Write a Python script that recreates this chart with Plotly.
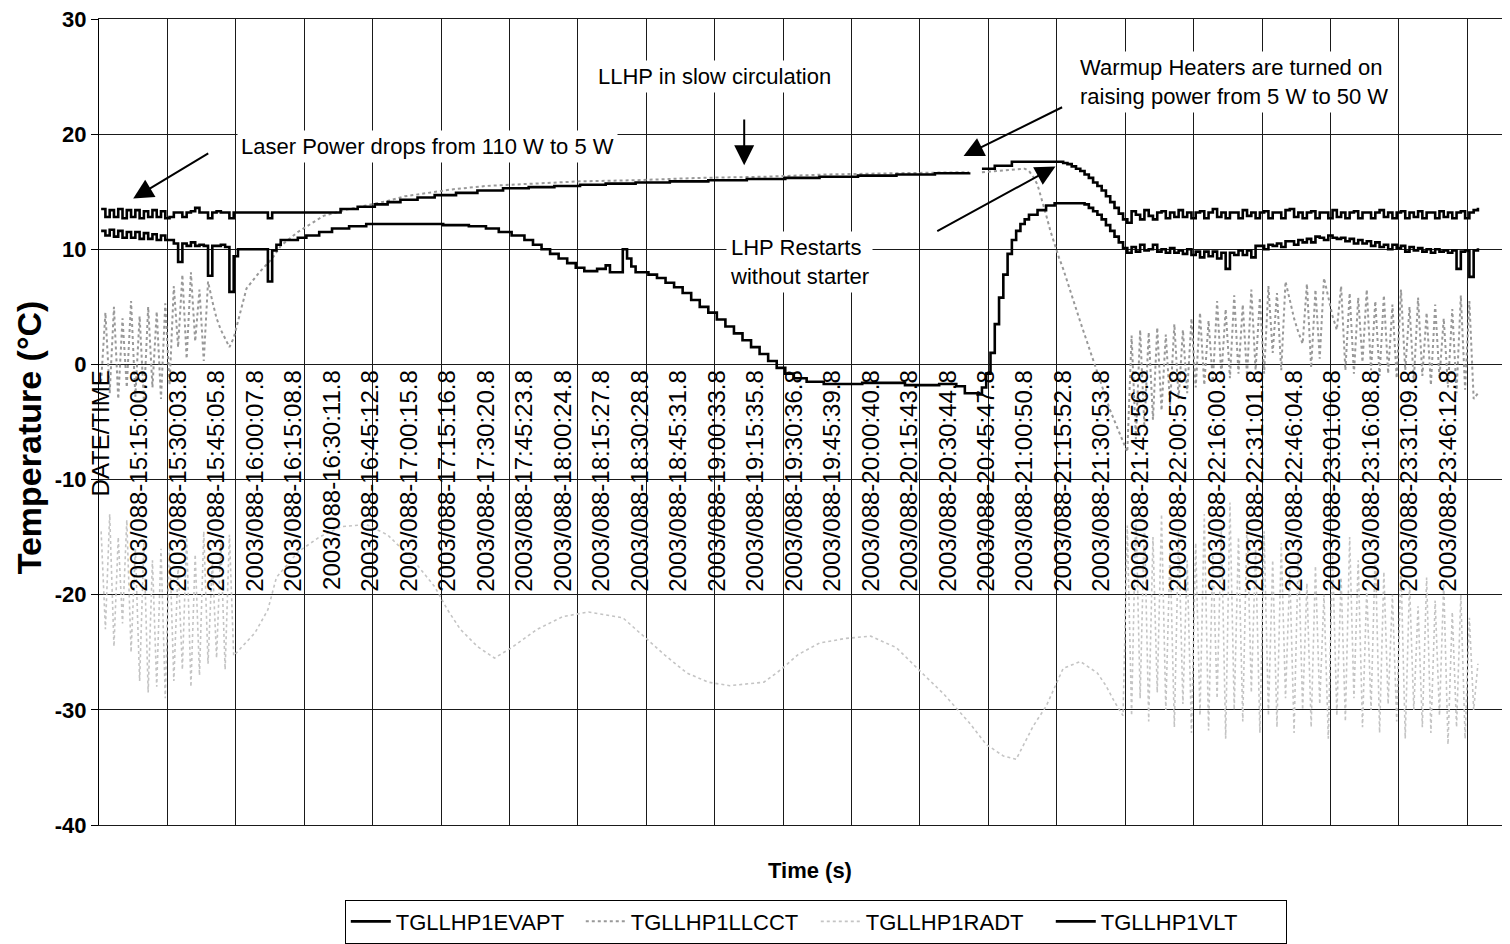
import plotly.graph_objects as go

# ---------------- data ----------------
cat_labels = ["DATE/TIME",
    "2003/088-15:15:00.8", "2003/088-15:30:03.8", "2003/088-15:45:05.8", "2003/088-16:00:07.8",
    "2003/088-16:15:08.8", "2003/088-16:30:11.8", "2003/088-16:45:12.8", "2003/088-17:00:15.8",
    "2003/088-17:15:16.8", "2003/088-17:30:20.8", "2003/088-17:45:23.8", "2003/088-18:00:24.8",
    "2003/088-18:15:27.8", "2003/088-18:30:28.8", "2003/088-18:45:31.8", "2003/088-19:00:33.8",
    "2003/088-19:15:35.8", "2003/088-19:30:36.8", "2003/088-19:45:39.8", "2003/088-20:00:40.8",
    "2003/088-20:15:43.8", "2003/088-20:30:44.8", "2003/088-20:45:47.8", "2003/088-21:00:50.8",
    "2003/088-21:15:52.8", "2003/088-21:30:53.8", "2003/088-21:45:56.8", "2003/088-22:00:57.8",
    "2003/088-22:16:00.8", "2003/088-22:31:01.8", "2003/088-22:46:04.8", "2003/088-23:01:06.8",
    "2003/088-23:16:08.8", "2003/088-23:31:09.8", "2003/088-23:46:12.8"]
samples_per_label = 9      # one category label every 9 samples
n_categories = 330
y_ticks = [-40, -30, -20, -10, 0, 10, 20, 30]
y_tick_text = ["-40", "-30", "-20", "-10", "0", "10", "20", "30"]

# TGLLHP1EVAPT (upper black trace)
evapt_left = [13.5, 12.8, 13.4, 12.8, 13.5, 12.7, 13.4, 12.8, 13.4, 12.7, 13.3, 12.8, 13.4, 12.8, 13.3, 12.7,
              12.8, 13.2, 13.2, 12.8, 13.2, 13.3, 13.6, 13.2, 13.2, 12.7, 13.2, 13.3, 13.2, 13.2, 12.7, 13.2]
evapt_mid_c = [32, 39, 40, 56, 60, 64, 67, 70, 74, 78, 83, 88, 94, 100, 106, 112, 118, 125, 133, 142, 151,
               160, 168, 177, 186, 195, 203, 204, 206, 209, 213, 224, 225, 226, 227, 228, 229, 230, 231,
               232, 233, 234, 235, 236, 237, 238, 239, 240]
evapt_mid_t = [13.2, 12.7, 13.2, 13.5, 13.7, 13.9, 14.1, 14.3, 14.5, 14.7, 14.9, 15.1, 15.3, 15.4, 15.5, 15.6,
               15.7, 15.8, 15.9, 16.0, 16.1, 16.2, 16.3, 16.4, 16.5, 16.6, 16.7, None, 17.0, 17.25, 17.6, 17.6,
               17.5, 17.4, 17.2, 17.0, 16.8, 16.5, 16.2, 15.8, 15.5, 15.1, 14.6, 14.1, 13.6, 13.1, 12.6, 12.3]
evapt_right = [13.3, 13.0, 12.6, 13.4, 12.9, 12.6, 13.2, 13.3, 12.7, 13.2, 12.8, 13.4, 12.8, 13.2, 12.7, 13.2,
               13.3, 12.7, 13.2, 13.5, 12.8, 13.2, 12.7, 13.2, 13.2, 12.7, 13.4, 12.9, 13.2, 12.7, 13.2, 13.3,
               12.7, 13.2, 13.2, 12.7, 13.4, 13.5, 12.8, 13.2, 12.7, 13.2, 13.3, 12.7, 13.2, 13.2, 12.7, 13.4,
               12.8, 13.2, 12.7, 13.2, 13.3, 12.7, 13.2, 13.2, 12.7, 13.2, 13.4, 12.8, 13.2, 12.7, 13.2, 13.3,
               12.7, 13.2, 12.8, 13.3, 12.7, 13.2, 13.2, 12.7, 13.3, 12.8, 13.2, 12.7, 13.2, 13.3, 12.7, 13.2,
               13.4, 13.6]

# TGLLHP1VLT (lower black trace)
vlt_left = [11.6, 11.2, 11.7, 11.1, 11.6, 11.0, 11.5, 11.0, 11.5, 10.9, 11.4, 10.9, 11.3, 10.8, 11.2, 10.8,
            10.8, 10.5, 8.9, 10.5, 10.3, 10.6, 10.3, 10.4, 10.3, 7.7, 10.3, 10.3, 10.4, 10.2, 6.3, 9.4,
            10.0, 10.0, 10.0, 10.0, 10.0, 10.0, 10.0, 7.2, 9.9, 10.4, 10.8]
vlt_mid_c = [44, 46, 48, 51, 54, 58, 62, 80, 86, 90, 93, 96, 99, 101, 103, 105, 107, 109, 111, 113, 116, 118,
             119, 121, 122, 123, 124, 125, 128, 130, 132, 134, 136, 138, 140, 142, 144, 146, 148, 150, 152,
             154, 156, 158, 160, 162, 165, 169, 178, 188, 196, 200, 202, 205, 206, 207, 208, 209, 210, 211,
             212, 213, 214, 215, 216, 217, 219, 221, 223, 229, 230, 231, 232, 233, 234, 235, 236, 237, 238,
             239, 240]
vlt_mid_t = [10.8, 11.0, 11.2, 11.5, 11.8, 12.0, 12.2, 12.1, 12.0, 11.8, 11.5, 11.2, 10.8, 10.4, 10.0, 9.6,
             9.2, 8.8, 8.4, 8.1, 8.3, 8.6, 8.0, 8.0, 10.0, 9.2, 8.5, 8.0, 7.8, 7.5, 7.1, 6.7, 6.2, 5.6, 5.0,
             4.5, 3.9, 3.3, 2.7, 2.1, 1.5, 0.9, 0.3, -0.3, -0.8, -1.2, -1.5, -1.7, -1.6, -1.8, -1.7, -1.9,
             -2.5, -2.6, -2.0, -0.8, 1.0, 3.5, 5.8, 7.8, 9.6, 10.8, 11.6, 12.2, 12.6, 13.0, 13.4, 13.8, 14.0,
             14.0, 13.9, 13.6, 13.3, 13.0, 12.6, 12.1, 11.6, 11.1, 10.6, 10.1, 9.7]
vlt_right = [10.2, 9.8, 10.4, 9.9, 10.0, 10.4, 9.8, 10.0, 9.7, 10.1, 9.7, 9.9, 9.6, 10.0, 9.5, 9.8, 9.3, 9.8,
             9.4, 9.8, 9.2, 9.7, 8.3, 9.7, 9.5, 9.9, 9.5, 9.9, 9.3, 10.3, 10.3, 10.0, 10.4, 10.3, 10.5, 10.2,
             10.7, 10.7, 10.4, 10.8, 10.6, 10.9, 10.6, 11.1, 11.0, 10.8, 11.2, 11.0, 10.9, 11.0, 10.7, 10.9,
             10.5, 10.8, 10.5, 10.7, 10.3, 10.6, 10.2, 10.4, 10.0, 10.4, 10.1, 10.3, 9.8, 10.2, 9.9, 10.1,
             9.8, 10.0, 9.7, 10.0, 9.8, 9.9, 9.7, 9.9, 8.3, 9.8, 9.9, 7.6, 9.9, 10.1]

# TGLLHP1LLCCT (grey dotted trace)
llcct_left = [-1.5, 4.5, -2.5, 5.0, -3.0, 4.0, -2.0, 5.5, -2.8, 4.2, -3.2, 5.0, -2.0, 4.6, -3.0, 5.3, -1.8,
              6.8, 1.5, 7.8, 0.5, 8.0, 2.0, 6.5, 0.3, 7.2, 5.5, 4.0, 3.0, 2.2, 1.5, 2.3]
llcct_mid_c = [34, 37, 40, 42, 46, 52, 58, 62, 67, 71, 75, 82, 90, 100, 112, 125, 140, 155, 170, 185, 203,
               204, 206, 213, 216, 217, 218, 219, 220, 221, 222, 223, 224, 225, 226, 227, 228, 229, 230, 231,
               232, 233, 234, 235, 236, 237, 238, 239, 240]
llcct_mid_t = [6.6, 8.0, 9.2, 10.3, 11.5, 12.9, 13.5, 13.8, 14.2, 14.6, 14.8, 15.2, 15.5, 15.7, 15.9, 16.0,
               16.2, 16.3, 16.5, 16.6, 16.7, None, 16.7, 16.9, 17.0, 16.8, 16.3, 15.6, 14.4, 13.0, 11.6, 10.4,
               9.3, 8.3, 7.1, 6.0, 4.8, 3.7, 2.6, 1.5, 0.4, -0.8, -2.0, -3.0, -4.0, -4.9, -5.8, -6.7, -7.6]
llcct_right = [2.5, -6.5, 3.0, -5.5, 2.8, -4.8, 3.2, -4.0, 2.6, -3.5, 3.5, -3.0, 3.0, -2.5, 4.0, -2.0, 4.5,
               -1.8, 3.8, -1.5, 5.5, -1.0, 4.8, -1.2, 6.0, -0.8, 5.2, -1.0, 6.5, -0.5, 5.8, -0.8, 6.8, 1.0,
               6.2, -0.5, 7.2, 5.5, 4.0, 2.8, 1.8, 7.0, -0.3, 6.5, 0.5, 7.5, 5.8, 4.2, 3.0, 6.8, -0.5, 6.2,
               -0.8, 5.8, 0.2, 6.5, -0.5, 5.5, -1.0, 6.0, -0.8, 5.2, -1.2, 6.5, -0.5, 5.0, -1.5, 5.8, -1.0,
               4.5, -1.8, 5.2, -1.2, 4.0, -2.0, 4.8, -2.5, 6.0, -2.2, 5.5, -3.0, -2.5]

# TGLLHP1RADT (light grey trace)
radt_left = [-14.5, -23.0, -13.0, -24.5, -15.0, -22.5, -13.5, -25.0, -16.0, -27.5, -15.5, -28.5, -17.0,
             -28.0, -16.0, -29.0, -15.5, -27.5, -17.5, -26.5, -15.0, -28.0, -16.5, -27.0, -14.5, -26.0,
             -17.0, -25.5, -15.5, -26.5, -14.8, -25.3]
radt_mid_c = [36, 39, 41, 46, 51, 56, 62, 67, 73, 78, 81, 84, 88, 92, 96, 102, 108, 114, 122, 128, 132, 137,
              142, 147, 155, 159, 163, 168, 174, 180, 186, 192, 197, 203, 207, 211, 214, 218, 221, 225, 229,
              233, 235, 237, 239]
radt_mid_t = [-23.3, -21.3, -18.5, -16.3, -15.0, -14.1, -13.9, -14.8, -17.0, -19.3, -21.3, -23.0, -24.5,
              -25.5, -24.6, -23.0, -21.9, -21.5, -22.0, -24.0, -25.3, -26.8, -27.6, -27.9, -27.6, -26.5,
              -25.2, -24.2, -23.8, -23.6, -24.6, -26.8, -28.6, -31.1, -33.0, -34.0, -34.3, -31.4, -29.7,
              -26.4, -25.8, -26.8, -27.9, -29.3, -30.5]
radt_right = [-14.0, -30.5, -12.5, -29.0, -13.5, -31.0, -15.0, -28.5, -13.0, -30.0, -16.0, -31.5, -14.5,
              -29.5, -17.0, -32.0, -15.5, -30.5, -13.0, -31.8, -16.5, -29.0, -14.0, -32.5, -12.0, -30.0,
              -15.0, -31.0, -13.5, -28.5, -16.0, -32.0, -14.5, -30.5, -17.0, -31.5, -15.5, -29.0, -18.0,
              -32.0, -16.0, -30.0, -19.0, -31.5, -17.5, -29.5, -20.0, -32.5, -16.5, -30.5, -18.5, -31.0,
              -15.0, -29.0, -17.0, -31.5, -19.5, -30.0, -16.0, -32.0, -18.0, -29.5, -20.0, -31.0, -17.5,
              -32.5, -19.0, -30.0, -21.0, -31.5, -18.5, -32.0, -20.5, -30.5, -19.0, -33.0, -21.5, -31.5,
              -20.0, -32.5, -22.0, -30.0, -26.0]


def assemble(left, mid_c, mid_t, right, right_start):
    xs = list(range(len(left))) + list(mid_c) + list(range(right_start, right_start + len(right)))
    ys = list(left) + list(mid_t) + list(right)
    return xs, ys


evapt_x, evapt_y = assemble(evapt_left, evapt_mid_c, evapt_mid_t, evapt_right, 241)
vlt_x, vlt_y = assemble(vlt_left, vlt_mid_c, vlt_mid_t, vlt_right, 241)
llcct_x, llcct_y = assemble(llcct_left, llcct_mid_c, llcct_mid_t, llcct_right, 241)
radt_x, radt_y = assemble(radt_left, radt_mid_c, radt_mid_t, radt_right, 240)

label_pos = [i * samples_per_label for i in range(len(cat_labels))]
grid_pos = [-0.5 + 16 * k for k in range(21)]

# ---------------- figure ----------------
FONT = "Arial, Liberation Sans, Helvetica, sans-serif"
fig = go.Figure()

fig.add_trace(go.Scatter(x=llcct_x, y=llcct_y, mode="lines", name="TGLLHP1LLCCT", legendrank=2,
                         line=dict(color="#999999", width=2, dash="dot")))
fig.add_trace(go.Scatter(x=radt_x, y=radt_y, mode="lines", name="TGLLHP1RADT", legendrank=3, xaxis="x2",
                         line=dict(color="#c4c4c4", width=1.6, dash="dot")))
fig.add_trace(go.Scatter(x=evapt_x, y=evapt_y, mode="lines", name="TGLLHP1EVAPT", legendrank=1,
                         line=dict(color="black", width=2.6, shape="hv")))
fig.add_trace(go.Scatter(x=vlt_x, y=vlt_y, mode="lines", name="TGLLHP1VLT", legendrank=4,
                         line=dict(color="black", width=2.6, shape="hv")))

xr = [-0.5, n_categories - 0.5]
fig.update_layout(
    width=1502, height=936,
    margin=dict(l=91, r=0, t=11, b=114),
    paper_bgcolor="white", plot_bgcolor="white",
    font=dict(family=FONT, size=22, color="black"),
    showlegend=True,
    legend=dict(orientation="h", x=0.508, xanchor="center", y=-0.0925, yanchor="top",
                bordercolor="black", borderwidth=1, font=dict(size=22, family=FONT),
                entrywidth=180, entrywidthmode="pixels", itemwidth=40, tracegroupgap=0),
    xaxis=dict(range=xr, tickmode="array", tickvals=grid_pos, showticklabels=False, ticks="",
               showgrid=True, gridcolor="#1a1a1a", gridwidth=1, zeroline=False,
               showline=True, mirror=True, linecolor="#1a1a1a", linewidth=1),
    xaxis2=dict(range=xr, overlaying="x", anchor="free", position=4 / 7, side="bottom",
                tickmode="array", tickvals=label_pos, ticktext=cat_labels, tickangle=-90,
                tickfont=dict(size=24, family=FONT, color="black"), ticks="", showgrid=False,
                zeroline=False, showline=False, automargin=False),
    yaxis=dict(range=[-40, 30], tickmode="array", tickvals=y_ticks, ticktext=y_tick_text,
               showgrid=True, gridcolor="#1a1a1a", gridwidth=1, ticklabeloverflow="allow",
               zeroline=False, showline=True, linecolor="black", linewidth=1, ticks="outside",
               ticklen=7, tickcolor="black",
               tickfont=dict(size=22, family=FONT, weight="bold", color="black"), automargin=False),
)

ann_font = dict(family=FONT, size=22, color="black")
texts = [
    dict(text="Laser Power drops from 110 W to 5 W", x=31.8, y=18.95, xanchor="left"),
    dict(text="LLHP in slow circulation", x=143.4, y=25.0, xanchor="center"),
    dict(text="Warmup Heaters are turned on<br>raising power from 5 W to 50 W", x=227.9, y=24.55,
         xanchor="left", align="left"),
    dict(text="LHP Restarts<br>without starter", x=146.2, y=8.86, xanchor="left", align="left"),
]
for t in texts:
    fig.add_annotation(xref="x", yref="y", yanchor="middle", showarrow=False, bgcolor="white",
                       borderpad=3, font=ann_font, **t)

arrows = [
    dict(x=7.5, y=14.4, ax=25.4, ay=18.4),
    dict(x=150.4, y=17.3, ax=150.4, ay=21.4),
    dict(x=201.7, y=18.1, ax=225.1, ay=22.4),
    dict(x=223.2, y=17.2, ax=195.2, ay=11.5),
]
for a in arrows:
    fig.add_annotation(xref="x", yref="y", axref="x", ayref="y", text="", showarrow=True,
                       arrowhead=2, arrowsize=2, arrowwidth=2, arrowcolor="black", **a)

fig.add_annotation(xref="paper", yref="paper", x=0.504, y=-0.056, xanchor="center", yanchor="middle",
                   text="Time (s)", showarrow=False,
                   font=dict(family=FONT, size=22, weight="bold", color="black"))
fig.add_annotation(xref="paper", yref="paper", x=-0.0496, y=0.481, xanchor="center", yanchor="middle",
                   text="Temperature (°C)", textangle=-90, showarrow=False,
                   font=dict(family=FONT, size=34, weight="bold", color="black"))

fig.write_html("out.html")
